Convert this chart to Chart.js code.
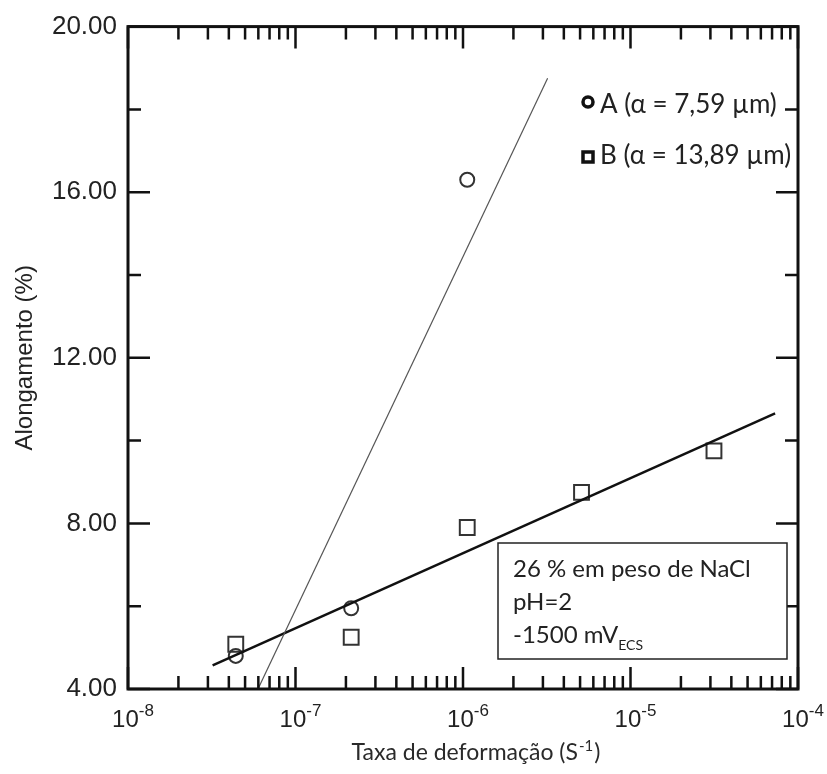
<!DOCTYPE html>
<html>
<head>
<meta charset="utf-8">
<script src="https://cdn.jsdelivr.net/npm/chart.js@4.4.0/dist/chart.umd.min.js"></script>
<style>
    html, body { margin: 0; padding: 0; background: #fff; }
</style>
</head>
<body>
<canvas id="alongamentoChart" width="827" height="774"></canvas>
<script>
// Data
const strainA = [4.4e-8, 2.15e-7, 1.06e-6];
const elongA = [4.8, 5.95, 16.3];
const strainB = [4.4e-8, 2.15e-7, 1.06e-6, 5.1e-6, 3.15e-5];
const elongB = [5.08, 5.25, 7.9, 8.75, 9.75];

// Fitted lines (end points)
const fitAStrain = [5.97e-8, 3.2e-6];
const fitAElong = [4.0, 18.75];
const fitBStrain = [3.2e-8, 7.3e-5];
const fitBElong = [4.57, 10.66];

// Axis ticks
const xDecades = [1e-8, 1e-7, 1e-6, 1e-5, 1e-4];
const xExponents = ['-8', '-7', '-6', '-5', '-4'];
const xMinorMult = [2, 3, 4, 5, 6, 7, 8, 9];
const yMajorTicks = [4, 8, 12, 16, 20];
const yMinorTicks = [6, 10, 14, 18];

const legendLabels = ['A (\u03b1 = 7,59 \u00b5m)', 'B (\u03b1 = 13,89 \u00b5m)'];
const boxLines = ['26 % em peso de NaCl', 'pH=2', '-1500 mV'];

function toPoints(xs, ys) {
    return xs.map((v, i) => ({ x: v, y: ys[i] }));
}

// Frame, inward ticks, tick labels, legend and note box
const decorations = {
    id: 'decorations',
    afterDatasetsDraw(chart) {
        const { ctx, chartArea: a, scales: { x, y } } = chart;
        ctx.save();
        ctx.strokeStyle = '#111';
        ctx.lineWidth = 2.5;
        ctx.beginPath();
        xDecades.forEach((d, i) => {
            const px = x.getPixelForValue(d);
            ctx.moveTo(px, a.bottom); ctx.lineTo(px, a.bottom - 22);
            ctx.moveTo(px, a.top); ctx.lineTo(px, a.top + 22);
            if (i < xDecades.length - 1) {
                xMinorMult.forEach(m => {
                    const mx = x.getPixelForValue(d * m);
                    ctx.moveTo(mx, a.bottom); ctx.lineTo(mx, a.bottom - 13);
                    ctx.moveTo(mx, a.top); ctx.lineTo(mx, a.top + 13);
                });
            }
        });
        yMajorTicks.forEach(v => {
            const py = y.getPixelForValue(v);
            ctx.moveTo(a.left, py); ctx.lineTo(a.left + 22, py);
            ctx.moveTo(a.right, py); ctx.lineTo(a.right - 22, py);
        });
        yMinorTicks.forEach(v => {
            const py = y.getPixelForValue(v);
            ctx.moveTo(a.left, py); ctx.lineTo(a.left + 13, py);
            ctx.moveTo(a.right, py); ctx.lineTo(a.right - 13, py);
        });
        ctx.stroke();
        ctx.lineWidth = 3;
        ctx.strokeRect(a.left, a.top, a.width, a.height);

        // x tick labels 10^n
        ctx.fillStyle = '#222';
        ctx.textBaseline = 'alphabetic';
        xDecades.forEach((d, i) => {
            const px = x.getPixelForValue(d) + 5;
            ctx.font = '24px "Liberation Sans", Arial, sans-serif';
            const wBase = ctx.measureText('10').width;
            ctx.font = '17px "Liberation Sans", Arial, sans-serif';
            const wExp = ctx.measureText(xExponents[i]).width;
            const left = px - (wBase + wExp) / 2;
            ctx.font = '24px "Liberation Sans", Arial, sans-serif';
            ctx.textAlign = 'left';
            ctx.fillText('10', left, a.bottom + 38);
            ctx.font = '17px "Liberation Sans", Arial, sans-serif';
            ctx.fillText(xExponents[i], left + wBase, a.bottom + 27);
        });

        // x axis title with superscript
        const cx = 475;
        const by = 760;
        ctx.font = '23px Lato, "Open Sans", sans-serif';
        const t1 = 'Taxa de deforma\u00e7\u00e3o (S';
        const w1 = ctx.measureText(t1).width;
        ctx.font = '15px Lato, "Open Sans", sans-serif';
        const w2 = ctx.measureText('-1').width;
        ctx.font = '23px Lato, "Open Sans", sans-serif';
        const w3 = ctx.measureText(')').width;
        let tx = cx - (w1 + w2 + w3) / 2;
        ctx.fillStyle = '#2a2a2a';
        ctx.fillText(t1, tx, by);
        ctx.font = '15px Lato, "Open Sans", sans-serif';
        ctx.fillText('-1', tx + w1 + 1, by - 9);
        ctx.font = '23px Lato, "Open Sans", sans-serif';
        ctx.fillText(')', tx + w1 + w2 + 2, by);

        // legend
        ctx.font = '26px Lato, "Open Sans", sans-serif';
        ctx.fillStyle = '#222';
        ctx.strokeStyle = '#111';
        ctx.lineWidth = 3.5;
        ctx.beginPath();
        ctx.arc(588, 102, 5, 0, Math.PI * 2);
        ctx.stroke();
        ctx.strokeRect(583, 152, 10, 10);
        ctx.fillText(legendLabels[0], 600, 113);
        ctx.fillText(legendLabels[1], 600, 164);

        // note box
        ctx.fillStyle = '#fff';
        ctx.fillRect(498, 543, 289, 116);
        ctx.lineWidth = 1.5;
        ctx.strokeStyle = '#222';
        ctx.strokeRect(498, 543, 289, 116);
        ctx.fillStyle = '#222';
        ctx.font = '24px Lato, "Open Sans", sans-serif';
        ctx.fillText(boxLines[0], 513, 577);
        ctx.fillText(boxLines[1], 513, 610);
        ctx.fillText(boxLines[2], 513, 643);
        const wmv = ctx.measureText(boxLines[2]).width;
        ctx.font = '14px Lato, "Open Sans", sans-serif';
        ctx.fillText('ECS', 513 + wmv, 650);
        ctx.restore();
    }
};

const canvas = document.getElementById('alongamentoChart');
const ctx = canvas.getContext('2d');

new Chart(ctx, {
    type: 'scatter',
    data: {
        datasets: [
            {
                label: 'A fit',
                data: toPoints(fitAStrain, fitAElong),
                showLine: true,
                borderColor: '#555',
                borderWidth: 1.2,
                pointRadius: 0
            },
            {
                label: 'B fit',
                data: toPoints(fitBStrain, fitBElong),
                showLine: true,
                borderColor: '#111',
                borderWidth: 2.5,
                pointRadius: 0
            },
            {
                label: legendLabels[0],
                data: toPoints(strainA, elongA),
                pointStyle: 'circle',
                pointRadius: 7,
                borderColor: '#333',
                borderWidth: 2,
                backgroundColor: 'rgba(255,255,255,0)'
            },
            {
                label: legendLabels[1],
                data: toPoints(strainB, elongB),
                pointStyle: 'rect',
                pointRadius: 10.5,
                borderColor: '#333',
                borderWidth: 2,
                backgroundColor: 'rgba(255,255,255,0)'
            }
        ]
    },
    options: {
        responsive: false,
        animation: false,
        layout: { padding: { top: 21, right: 29, left: 0, bottom: 0 } },
        plugins: {
            legend: { display: false },
            tooltip: { enabled: false }
        },
        scales: {
            x: {
                type: 'logarithmic',
                min: 1e-8,
                max: 1e-4,
                grid: { display: false, drawTicks: false },
                border: { display: false },
                ticks: { display: false },
                afterFit: scale => { scale.height = 85; }
            },
            y: {
                min: 4,
                max: 20,
                ticks: {
                    stepSize: 4,
                    padding: 11,
                    color: '#222',
                    font: { family: '"Liberation Sans", Arial, sans-serif', size: 26 },
                    callback: v => v.toFixed(2)
                },
                grid: { display: false, drawTicks: false },
                border: { display: false },
                title: {
                    display: true,
                    text: 'Alongamento (%)',
                    color: '#222',
                    font: { family: '"Liberation Sans", Arial, sans-serif', size: 24 },
                    padding: { top: 11, bottom: 0 }
                },
                afterFit: scale => { scale.width = 128; }
            }
        }
    },
    plugins: [decorations]
});
</script>
</body>
</html>
